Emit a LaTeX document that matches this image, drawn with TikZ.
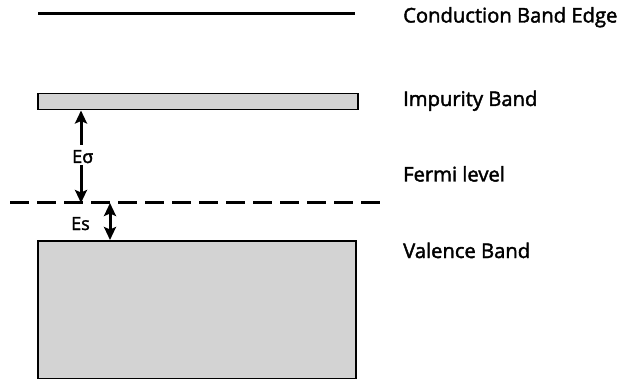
\documentclass[tikz,border=0pt]{standalone}
\usepackage{fontspec}
\setmainfont{Open Sans}[BoldFont={Open Sans}, BoldFeatures={FakeBold=2}]
\usetikzlibrary{arrows.meta}
\definecolor{bandgray}{RGB}{211,211,211}
\tikzset{
  band/.style={draw=black, line width=1.5pt, fill=bandgray, inner sep=0pt, anchor=north west},
  lbl/.style={anchor=base west, inner sep=0pt, font=\fontsize{20.2}{23}\selectfont\bfseries},
  elbl/.style={anchor=base west, inner sep=0pt, font=\fontsize{18}{21}\selectfont\bfseries},
  level/.style={line width=3pt},
  tip/.style={},
  gap/.style={line width=3pt, -{Stealth[length=13pt,width=12pt,inset=2.5pt]}},
  dgap/.style={line width=3pt, {Stealth[length=13pt,width=12pt,inset=2.5pt]}-{Stealth[length=13pt,width=12pt,inset=2.5pt]}},
}
\begin{document}
\begin{tikzpicture}[x=1pt,y=-1pt]
\useasboundingbox (0,0) rectangle (620,379);
% conduction band edge
\coordinate (cbL) at (38,14);
\coordinate (cbR) at (355,14);
\draw[level] (cbL) -- (cbR);
% impurity band
\node[band, minimum width=320pt, minimum height=16pt] (imp) at (37,93) {};
% fermi level
\coordinate (fL) at (10,203);
\coordinate (fR) at (387,203);
\draw[level, dash pattern=on 19pt off 8pt] (fL) -- (fR);
% valence band
\node[band, minimum width=318pt, minimum height=138pt] (val) at (37,240) {};
% E sigma
\node[elbl] (esig) at (72,163) {Eσ};
\coordinate (esTop) at (81,145);
\coordinate (esBot) at (81,165);
\coordinate (esF) at (81,203);
\draw[gap] (esTop) -- (esTop |- imp.south);
\draw[gap] (esBot) -- (esF);
% Es
\node[elbl] (es) at (71,230) {Es};
\coordinate (sF) at (110,203);
\draw[dgap] (sF) -- (sF |- val.north);
% labels
\node[lbl] (lcb) at (403,22.5) {Conduction Band Edge};
\node[lbl] (limp) at (403,106) {Impurity Band};
\node[lbl] (lf) at (403,181.5) {Fermi level};
\node[lbl] (lv) at (403,258) {Valence Band};
\end{tikzpicture}
\end{document}
